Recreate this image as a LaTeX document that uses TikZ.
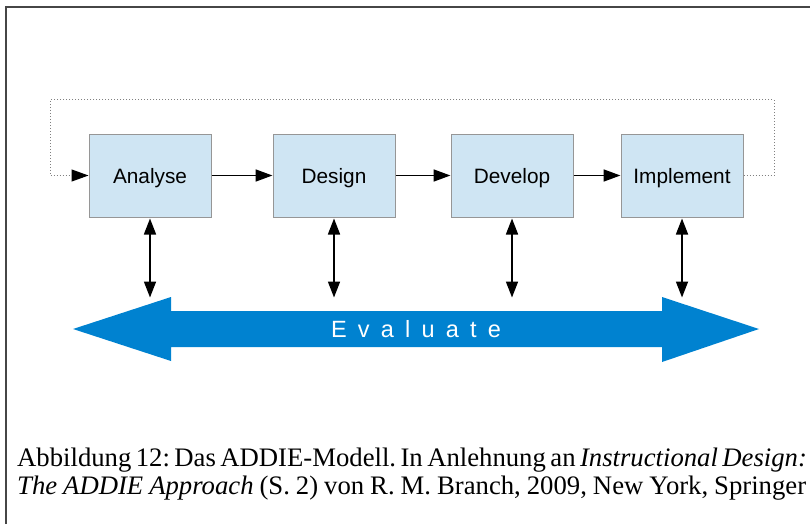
\documentclass[tikz,border=0pt]{standalone}
\usepackage{fontspec}
\setmainfont{Liberation Serif}
\setsansfont{Liberation Sans}
\usetikzlibrary{arrows.meta}
\definecolor{phasefill}{RGB}{207,229,243}
\definecolor{phaseline}{RGB}{150,150,150}
\definecolor{evalblue}{RGB}{0,130,208}
\definecolor{framegray}{RGB}{70,70,70}
\newcommand{\evgap}{\hspace{11.2pt}}
\tikzset{
  phase/.style={draw=phaseline, line width=1pt, fill=phasefill,
    minimum width=122pt, minimum height=83pt, inner sep=0pt, text depth=0pt,
    font=\sffamily\fontsize{20.8}{24}\selectfont},
  headtip/.style={-{Triangle[length=17pt,width=12pt,color=black,fill=black]}},
  flow/.style={line width=1.7pt, headtip},
  twoway/.style={line width=1.7pt,
    {Triangle[length=16pt,width=12pt]}-{Triangle[length=16pt,width=12pt]}},
  loopback/.style={draw=gray, line width=1pt, dotted},
  captionline/.style={anchor=base west, inner sep=0pt,
    font=\fontsize{26.7}{30}\selectfont\frenchspacing}
}
\begin{document}
\begin{tikzpicture}[x=1pt, y=-1pt]
  \useasboundingbox (0,0) rectangle (810,524);
  % frame
  \draw[framegray, line width=1.5pt] (6,524) -- (6,7) -- (810,7);

  % phases
  \node[phase] (ana) at (150,175.5) {Analyse};
  \node[phase] (des) at (334,175.5) {Design};
  \node[phase] (dev) at (512,175.5) {Develop};
  \node[phase] (imp) at (682,175.5) {Implement};

  \draw[flow] (ana) -- (des);
  \draw[flow] (des) -- (dev);
  \draw[flow] (dev) -- (imp);

  % feedback loop from Implement back to Analyse
  \coordinate (loopR) at (774,100);
  \coordinate (loopL) at (50,100);
  \draw[loopback, headtip] (imp.east) -- (imp.east -| loopR) -- (loopR)
    -- (loopL) -- (loopL |- ana.west) -- (ana.west);

  % evaluate arrow
  \fill[evalblue] (73,329) -- (171,297) -- (171,311) -- (662,311) -- (662,297)
    -- (759,329) -- (662,362) -- (662,347) -- (171,347) -- (171,361) -- cycle;
  \node[text=white, inner sep=0pt, font=\sffamily\fontsize{23.5}{26}\selectfont]
    (eval) at (416,329) {E\evgap v\evgap a\evgap l\evgap u\evgap a\evgap t\evgap e};
  \coordinate (evtop) at (416,297.5);

  \draw[twoway] ([yshift=-1pt]ana.south) -- (ana.south |- evtop);
  \draw[twoway] ([yshift=-1pt]des.south) -- (des.south |- evtop);
  \draw[twoway] ([yshift=-1pt]dev.south) -- (dev.south |- evtop);
  \draw[twoway] ([yshift=-1pt]imp.south) -- (imp.south |- evtop);

  % caption
  \node[captionline] (cap1) at (17,466)
    {\makebox[789pt][s]{Abbildung 12: Das ADDIE-Modell. In Anlehnung an \textit{Instructional Design:}}};
  \node[captionline] (cap2) at (17,494)
    {\makebox[789pt][s]{\textit{The ADDIE Approach} (S. 2) von R. M. Branch, 2009, New York, Springer}};
\end{tikzpicture}
\end{document}
